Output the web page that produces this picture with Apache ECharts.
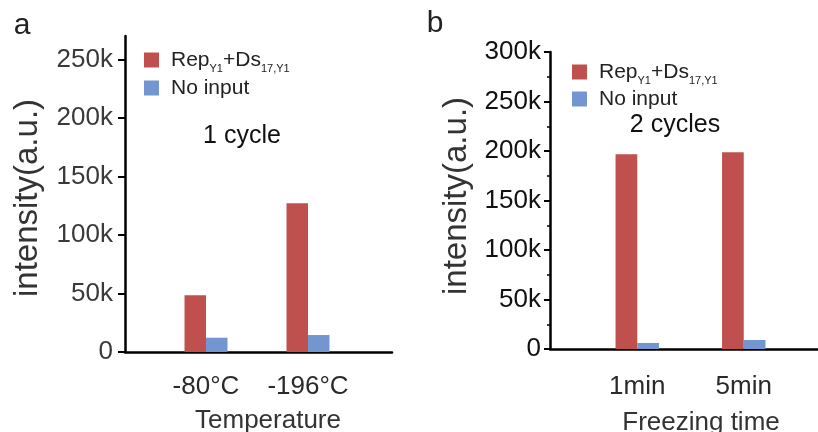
<!DOCTYPE html>
<html>
<head>
<meta charset="utf-8">
<script src="https://cdn.jsdelivr.net/npm/echarts@6/dist/echarts.min.js"></script>
<style>
html,body{margin:0;padding:0;background:#fff;}
#c{width:818px;height:432px;}
</style>
</head>
<body>
<div id="c"></div>
<script>
// ---- data ----
const catsA = ['-80°C', '-196°C'];
const repA = [48500, 127000];
const noInputA = [12200, 14500];
const ticksA = [0, 50000, 100000, 150000, 200000, 250000];

const catsB = ['1min', '5min'];
const repB = [196700, 198700];
const noInputB = [6100, 9100];
const ticksB = [0, 50000, 100000, 150000, 200000, 250000, 300000];

const seriesNames = ['Rep_Y1+Ds_17,Y1', 'No input'];
const RED = '#c0504d', BLUE = '#7496d0';
const FONT = '"Liberation Sans", Arial, sans-serif';

const fmtK = v => v === 0 ? '0' : (v / 1000) + 'k';

const chart = echarts.init(document.getElementById('c'), null, {renderer: 'canvas'});

function legendFmt(name) {
  if (name === seriesNames[0]) return '{n|Rep}{s|Y1}{n|+Ds}{s|17,Y1}';
  return '{n|' + name + '}';
}
const legendRich = {
  n: {fontSize: 21, fontFamily: FONT, color: '#222', verticalAlign: 'bottom', lineHeight: 22},
  s: {fontSize: 11, fontFamily: FONT, color: '#222', verticalAlign: 'bottom', lineHeight: 22, padding: [0, 0, -3, 0]}
};

const option = {
  animation: false,
  backgroundColor: '#fff',
  textStyle: {fontFamily: FONT},
  grid: [
    {left: 125, right: 426, top: 36, bottom: 80, outerBoundsMode: 'none'},
    {left: 155, right: 459, top: 36, bottom: 80, outerBoundsMode: 'none'},
    {left: 550, right: 0, top: 52, bottom: 83, outerBoundsMode: 'none'},
    {left: 584, right: 21, top: 52, bottom: 83, outerBoundsMode: 'none'}
  ],
  legend: [
    {
      data: seriesNames, orient: 'vertical', left: 139, top: 45,
      itemWidth: 15, itemHeight: 15, itemGap: 4, icon: 'rect',
      formatter: legendFmt,
      textStyle: {padding: [0, 0, 0, 7], rich: legendRich}
    },
    {
      data: seriesNames, orient: 'vertical', left: 567, top: 57,
      itemWidth: 15, itemHeight: 15, itemGap: 3, icon: 'rect',
      formatter: legendFmt,
      textStyle: {padding: [0, 0, 0, 7], rich: legendRich}
    }
  ],
  xAxis: [
    {gridIndex: 0, type: 'value', min: 0, max: 1,
      axisLine: {show: true, lineStyle: {color: '#000', width: 2.5}},
      axisTick: {show: false}, axisLabel: {show: false}, splitLine: {show: false}},
    {gridIndex: 1, type: 'category', data: catsA,
      axisLine: {show: false}, axisTick: {show: false}, splitLine: {show: false},
      axisLabel: {interval: 0, hideOverlap: false, fontSize: 26, color: '#2a2a2a', margin: 22, fontFamily: FONT}},
    {gridIndex: 2, type: 'value', min: 0, max: 1,
      axisLine: {show: true, lineStyle: {color: '#000', width: 2.5}},
      axisTick: {show: false}, axisLabel: {show: false}, splitLine: {show: false}},
    {gridIndex: 3, type: 'category', data: catsB,
      axisLine: {show: false}, axisTick: {show: false}, splitLine: {show: false},
      axisLabel: {interval: 0, hideOverlap: false, fontSize: 26, color: '#2a2a2a', margin: 25, fontFamily: FONT}}
  ],
  yAxis: [
    {gridIndex: 0, type: 'value', min: 0, max: 270000,
      axisLine: {show: true, lineStyle: {color: '#000', width: 2.5}},
      axisTick: {show: true, inside: false, length: 7, lineStyle: {color: '#000', width: 2}, customValues: ticksA},
      axisLabel: {fontSize: 26, color: '#3a3a3a', margin: 12, formatter: fmtK, customValues: ticksA, fontFamily: FONT},
      splitLine: {show: false}},
    {gridIndex: 1, type: 'value', min: 0, max: 270000, show: false, splitLine: {show: false}},
    {gridIndex: 2, type: 'value', min: 0, max: 300000, interval: 50000,
      axisLine: {show: true, lineStyle: {color: '#000', width: 2.5}},
      axisTick: {show: true, inside: false, length: 6, lineStyle: {color: '#000', width: 2}},
      minorTick: {show: true, splitNumber: 2, length: 3, lineStyle: {color: '#000', width: 1.5}},
      axisLabel: {fontSize: 26, color: '#111', margin: 9, formatter: fmtK, fontFamily: FONT},
      splitLine: {show: false}, minorSplitLine: {show: false}},
    {gridIndex: 3, type: 'value', min: 0, max: 300000, show: false, splitLine: {show: false}}
  ],
  series: [
    {name: seriesNames[0], type: 'bar', xAxisIndex: 1, yAxisIndex: 1, data: repA,
      barWidth: 21.5, barGap: '0%', itemStyle: {color: RED}},
    {name: seriesNames[1], type: 'bar', xAxisIndex: 1, yAxisIndex: 1, data: noInputA,
      barWidth: 21.5, barGap: '0%', itemStyle: {color: BLUE}},
    {name: seriesNames[0], type: 'bar', xAxisIndex: 3, yAxisIndex: 3, data: repB,
      barWidth: 21.7, barGap: '0%', itemStyle: {color: RED}},
    {name: seriesNames[1], type: 'bar', xAxisIndex: 3, yAxisIndex: 3, data: noInputB,
      barWidth: 21.7, barGap: '0%', itemStyle: {color: BLUE}}
  ],
  graphic: [
    {type: 'text', x: 22, y: 26, style: {text: 'a', fontSize: 30, fontFamily: FONT, fill: '#222', align: 'center', verticalAlign: 'middle'}},
    {type: 'text', x: 435, y: 24, style: {text: 'b', fontSize: 30, fontFamily: FONT, fill: '#222', align: 'center', verticalAlign: 'middle'}},
    {type: 'text', x: 28, y: 198, rotation: Math.PI / 2, style: {text: 'intensity(a.u.)', fontSize: 33, fontFamily: FONT, fill: '#333', align: 'center', verticalAlign: 'middle'}},
    {type: 'text', x: 457, y: 196, rotation: Math.PI / 2, style: {text: 'intensity(a.u.)', fontSize: 33, fontFamily: FONT, fill: '#333', align: 'center', verticalAlign: 'middle'}},
    {type: 'text', x: 242, y: 136, style: {text: '1 cycle', fontSize: 25, fontFamily: FONT, fill: '#111', align: 'center', verticalAlign: 'middle'}},
    {type: 'text', x: 675, y: 125, style: {text: '2 cycles', fontSize: 25, fontFamily: FONT, fill: '#111', align: 'center', verticalAlign: 'middle'}},
    {type: 'text', x: 268, y: 421, style: {text: 'Temperature', fontSize: 26, fontFamily: FONT, fill: '#333', align: 'center', verticalAlign: 'middle'}},
    {type: 'text', x: 701, y: 423, style: {text: 'Freezing time', fontSize: 26, fontFamily: FONT, fill: '#333', align: 'center', verticalAlign: 'middle'}}
  ]
};
chart.setOption(option);
</script>
</body>
</html>
